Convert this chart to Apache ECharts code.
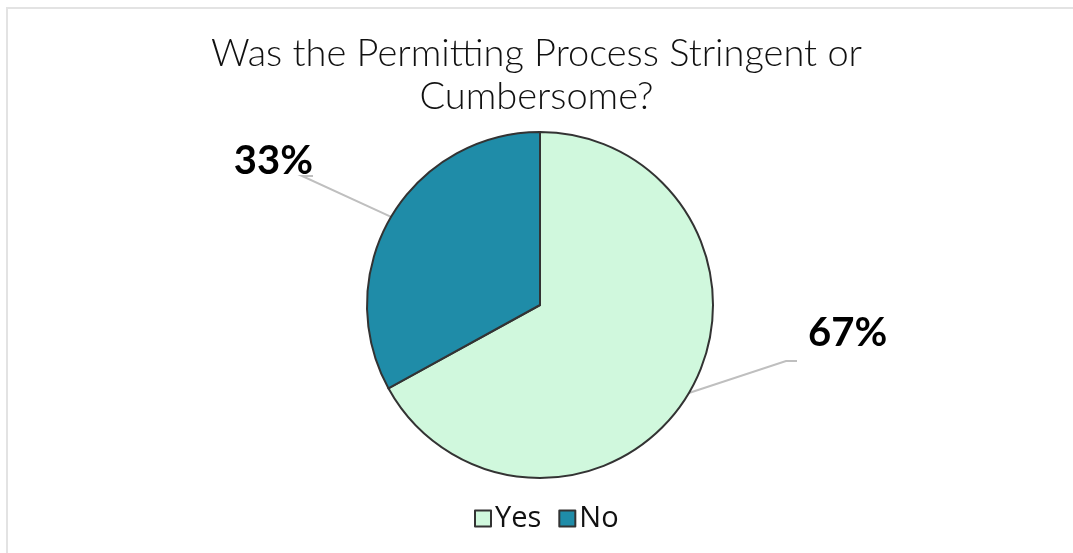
<!DOCTYPE html>
<html>
<head>
<meta charset="utf-8">
<script src="https://cdn.jsdelivr.net/npm/echarts@6/dist/echarts.min.js"></script>
<style>
  html, body { margin: 0; padding: 0; background: #fff; }
  #chart { width: 1073px; height: 553px; }
</style>
</head>
<body>
<div id="chart"></div>
<script>
var categories = ["Yes", "No"],
    shares = [67, 33],
    sliceColors = ["#d0f8dd", "#1f8ca8"],
    titleText = "Was the Permitting Process Stringent or\nCumbersome?";

var chart = echarts.init(document.getElementById("chart"), null, { renderer: "canvas" });

// label boxes: padding pushes the box middle down so the leader line
// meets the text near its lower corner, like the original
var labelBoxes = {
    "Yes": { x: 797, y: 311, align: "left", padding: [0, 0, 56, 11], len2: 11 },
    "No": { x: 313, y: 139, align: "right", padding: [0, 0, 30, 0], len2: -11 }
};

var pieData = categories.map(function (name, i) {
    var box = labelBoxes[name];
    return {
        name: name,
        value: shares[i],
        itemStyle: { color: sliceColors[i] },
        label: { padding: box.padding },
        labelLine: { length2: box.len2 }
    };
});

var option = {
    backgroundColor: "#ffffff",
    animation: false,
    graphic: [{
        type: "rect",
        shape: { x: 7, y: 8, width: 1200, height: 700 },
        style: { fill: "none", stroke: "#e3e3e3", lineWidth: 2 },
        silent: true
    }],
    title: {
        text: titleText,
        left: "center",
        top: 27,
        textStyle: {
            fontFamily: "Lato",
            fontWeight: 300,
            fontSize: 38,
            lineHeight: 43,
            color: "#111111"
        }
    },
    legend: {
        bottom: 15,
        left: 469,
        itemWidth: 16,
        itemHeight: 16,
        itemGap: 17,
        icon: "rect",
        itemStyle: { borderColor: "#333333", borderWidth: 2 },
        textStyle: { fontFamily: "Open Sans", fontSize: 29, color: "#111111", padding: [0, 0, 0, -1] },
        data: categories
    },
    series: [{
        type: "pie",
        center: [540, 305],
        radius: 173,
        startAngle: 90,
        clockwise: true,
        data: pieData,
        itemStyle: { borderColor: "#333333", borderWidth: 2 },
        label: {
            show: true,
            position: "outside",
            formatter: "{c}%",
            fontFamily: "Lato",
            fontWeight: "bold",
            fontSize: 40,
            lineHeight: 44,
            color: "#000000"
        },
        labelLine: {
            show: true,
            length: 60,
            length2: 10,
            minTurnAngle: 0,
            lineStyle: { color: "#bfbfbf", width: 2 }
        },
        labelLayout: function (params) {
            var box = labelBoxes[categories[params.dataIndex]];
            return {
                x: box.x,
                y: box.y,
                align: box.align,
                verticalAlign: "top"
            };
        }
    }]
};

chart.setOption(option);
</script>
</body>
</html>
